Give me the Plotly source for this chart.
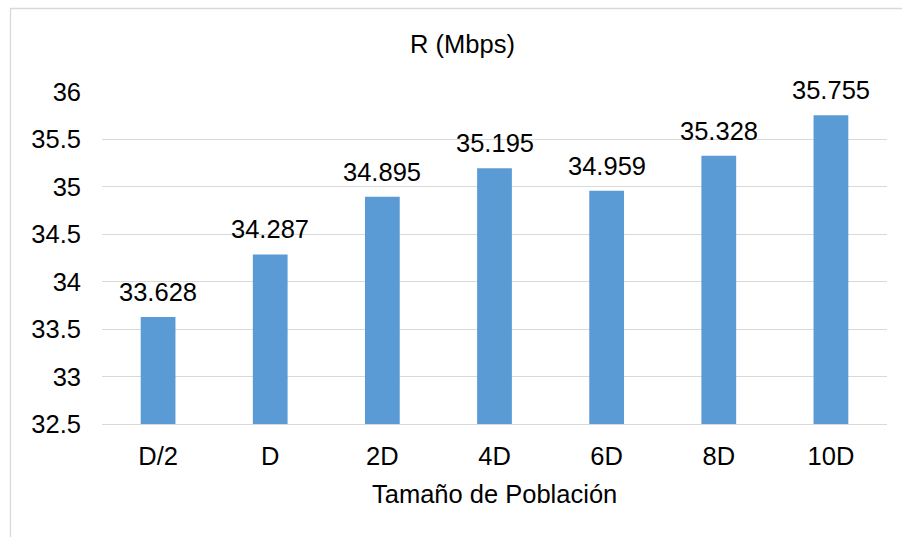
import plotly.graph_objects as go

# Population-size experiment: throughput R in Mbps
categories = ["D/2", "D", "2D", "4D", "6D", "8D", "10D"]
r_mbps = [33.628, 34.287, 34.895, 35.195, 34.959, 35.328, 35.755]
y_ticks = [32.5, 33, 33.5, 34, 34.5, 35, 35.5, 36]
y_tick_labels = ["32.5", "33", "33.5", "34", "34.5", "35", "35.5", "36"]

FONT = "Liberation Sans, Arial, sans-serif"
FS = 25.5
BLUE = "#5B9BD5"
GRID = "#D9D9D9"

W, H = 902, 537
L, R, T, B = 102, 15, 92, 113
plot_w = W - L - R
plot_h = H - T - B


def px_x(x):
    return (x - L) / plot_w


def px_y(y):
    return (H - B - y) / plot_h


fig = go.Figure(
    go.Bar(
        x=categories,
        y=r_mbps,
        marker=dict(color=BLUE, line=dict(width=0)),
        width=0.31,
        hoverinfo="x+y",
    )
)

# Value labels above the bars
for c, v in zip(categories, r_mbps):
    fig.add_annotation(
        x=c, y=v, xref="x", yref="y",
        text=f"{v:.3f}", showarrow=False,
        yanchor="bottom", yshift=9,
        font=dict(family=FONT, size=FS, color="#000000"),
    )

# Axis title under the category labels
fig.add_annotation(
    x=0.5, y=px_y(494), xref="paper", yref="paper",
    text="Tamaño de Población", showarrow=False,
    yanchor="middle", xanchor="center",
    font=dict(family=FONT, size=FS, color="#000000"),
)

# Chart-area frame
fig.add_shape(
    type="rect", xref="paper", yref="paper",
    x0=px_x(10.5), x1=px_x(912), y0=px_y(548), y1=px_y(8.5),
    line=dict(color=GRID, width=1.3), fillcolor="rgba(0,0,0,0)",
    layer="below",
)

fig.update_layout(
    width=W, height=H,
    margin=dict(l=L, r=R, t=T, b=B),
    paper_bgcolor="white", plot_bgcolor="white",
    showlegend=False,
    font=dict(family=FONT, size=FS, color="#000000"),
    title=dict(
        text="R (Mbps)", x=462.5 / W, xanchor="center",
        y=1 - 44 / H, yanchor="middle", yref="container",
        font=dict(family=FONT, size=FS, color="#000000"),
    ),
    bargap=0.69,
    xaxis=dict(
        showgrid=False, zeroline=False,
        showline=True, linecolor=GRID, linewidth=1.3,
        ticks="", ticklabelstandoff=9,
        tickfont=dict(family=FONT, size=FS, color="#000000"),
    ),
    yaxis=dict(
        range=[32.5, 36], tickvals=y_ticks, ticktext=y_tick_labels,
        showgrid=True, gridcolor=GRID, gridwidth=1.3,
        zeroline=False, showline=False,
        ticks="", ticklabelstandoff=20,
        tickfont=dict(family=FONT, size=FS, color="#000000"),
    ),
)

fig.write_html("out.html")
